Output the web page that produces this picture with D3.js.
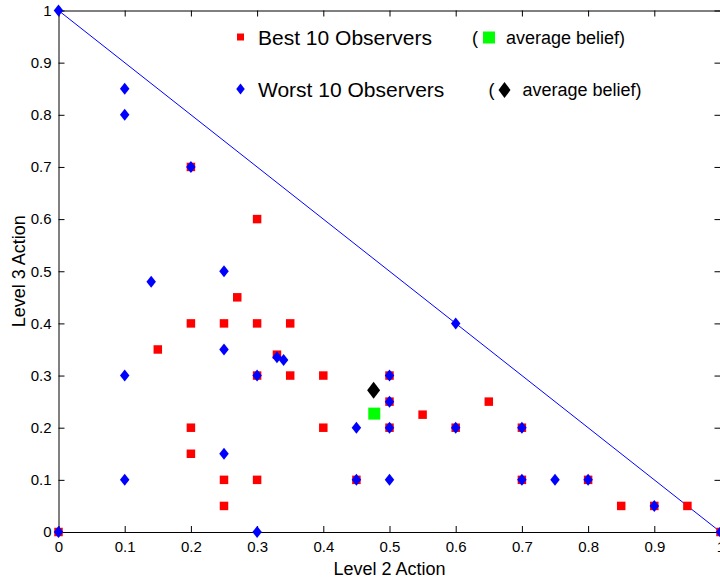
<!DOCTYPE html>
<html>
<head>
<meta charset="utf-8">
<script src="https://cdn.jsdelivr.net/npm/d3@7"></script>
<style>
    body { margin: 0; background: #fff; }
    svg { display: block; font-family: "Liberation Sans", Arial, Helvetica, sans-serif; }
</style>
</head>
<body>
<svg></svg>
<script>
// Best 10 observers (red squares)
let bestX = [0, 0.2, 0.3, 0.27, 0.2, 0.25, 0.3, 0.35, 0.15, 0.33, 0.3, 0.35, 0.4, 0.2, 0.4, 0.2, 0.25, 0.3, 0.45, 0.25,
    0.5, 0.5, 0.5, 0.55, 0.65, 0.6, 0.7, 0.7, 0.8, 0.85, 0.9, 0.95, 1];
let bestY = [0, 0.7, 0.6, 0.45, 0.4, 0.4, 0.4, 0.4, 0.35, 0.34, 0.3, 0.3, 0.3, 0.2, 0.2, 0.15, 0.1, 0.1, 0.1, 0.05,
    0.3, 0.25, 0.2, 0.225, 0.25, 0.2, 0.2, 0.1, 0.1, 0.05, 0.05, 0.05, 0];

// Worst 10 observers (blue diamonds)
let worstX = [0, 0.1, 0.1, 0.2, 0.25, 0.14, 0.25, 0.1, 0.3, 0.33, 0.34, 0.25, 0.1, 0.45, 0.45, 0.3, 0,
    0.6, 0.5, 0.5, 0.5, 0.5, 0.6, 0.7, 0.7, 0.75, 0.8, 0.9, 1];
let worstY = [1, 0.85, 0.8, 0.7, 0.5, 0.48, 0.35, 0.3, 0.3, 0.335, 0.33, 0.15, 0.1, 0.2, 0.1, 0, 0,
    0.4, 0.3, 0.25, 0.2, 0.1, 0.2, 0.2, 0.1, 0.1, 0.1, 0.05, 0];

// average beliefs
let bestAvg = [0.477, 0.227];
let worstAvg = [0.476, 0.272];

let ticks = [0, 0.1, 0.2, 0.3, 0.4, 0.5, 0.6, 0.7, 0.8, 0.9, 1];
let legendLabels = ["Best 10 Observers", "Worst 10 Observers"];
let avgLabel = "average belief)";

let width = 720,
    height = 580,
    plotLeft = 58.5,
    plotRight = 720.5,
    plotTop = 10.5,
    plotBottom = 532;

let x = d3.scaleLinear().domain([0, 1]).range([plotLeft, plotRight]);
let y = d3.scaleLinear().domain([0, 1]).range([plotBottom, plotTop]);

let svg = d3.select('svg')
    .attr('width', width)
    .attr('height', height);

// diamond path of given width and height
function diamond(w, h) {
    return 'M0,' + (-h / 2) + 'L' + (w / 2) + ',0L0,' + (h / 2) + 'L' + (-w / 2) + ',0Z';
}
function square(s) {
    return 'M' + (-s / 2) + ',' + (-s / 2) + 'h' + s + 'v' + s + 'h' + (-s) + 'Z';
}

// axes, ticks pointing inward on all sides
let fmt = d => d3.format('')(d);
svg.append('g')
    .attr('transform', 'translate(0,' + plotBottom + ')')
    .call(d3.axisBottom(x).tickValues(ticks).tickFormat(fmt).tickSizeInner(-6).tickSizeOuter(0).tickPadding(9));
svg.append('g')
    .attr('transform', 'translate(' + plotLeft + ',0)')
    .call(d3.axisLeft(y).tickValues(ticks).tickFormat(fmt).tickSizeInner(-6).tickSizeOuter(0).tickPadding(7));
svg.append('g')
    .attr('transform', 'translate(0,' + plotTop + ')')
    .call(d3.axisTop(x).tickValues(ticks).tickFormat('').tickSizeInner(-6).tickSizeOuter(0));
svg.append('g')
    .attr('transform', 'translate(' + plotRight + ',0)')
    .call(d3.axisRight(y).tickValues(ticks).tickFormat('').tickSizeInner(-6).tickSizeOuter(0));

svg.selectAll('.domain, .tick line')
    .attr('stroke', '#000')
    .attr('stroke-width', 1);
svg.selectAll('.tick text')
    .attr('font-size', 15)
    .attr('fill', '#000')
    .attr('font-family', '"Liberation Sans", Arial, sans-serif');

// diagonal x + y = 1
svg.append('line')
    .attr('x1', x(0)).attr('y1', y(1))
    .attr('x2', x(1)).attr('y2', y(0))
    .attr('stroke', '#0000ff')
    .attr('stroke-width', 1);

let best = bestX.map((v, i) => [v, bestY[i]]);
let worst = worstX.map((v, i) => [v, worstY[i]]);

svg.append('g').selectAll('path')
    .data(best).enter()
    .append('path')
    .attr('d', square(8.5))
    .attr('transform', d => 'translate(' + x(d[0]) + ',' + y(d[1]) + ')')
    .attr('fill', '#ff0000');

svg.append('g').selectAll('path')
    .data(worst).enter()
    .append('path')
    .attr('d', diamond(9.5, 12))
    .attr('transform', d => 'translate(' + x(d[0]) + ',' + y(d[1]) + ')')
    .attr('fill', '#0000ff');

svg.append('path')
    .attr('d', square(12))
    .attr('transform', 'translate(' + x(bestAvg[0]) + ',' + y(bestAvg[1]) + ')')
    .attr('fill', '#00ff00');

svg.append('path')
    .attr('d', diamond(13, 17))
    .attr('transform', 'translate(' + x(worstAvg[0]) + ',' + y(worstAvg[1]) + ')')
    .attr('fill', '#000');

// legend
let legend = svg.append('g');
legend.append('path').attr('d', square(7)).attr('transform', 'translate(240.5,37)').attr('fill', '#ff0000');
legend.append('path').attr('d', diamond(8.5, 11)).attr('transform', 'translate(240.5,89)').attr('fill', '#0000ff');
legend.selectAll('text.lab')
    .data(legendLabels).enter()
    .append('text')
    .attr('class', 'lab')
    .attr('x', 258)
    .attr('y', (d, i) => i === 0 ? 44.5 : 96.5)
    .attr('font-size', 21)
    .text(d => d);

legend.append('text').attr('x', 472).attr('y', 44).attr('font-size', 18).text('(');
legend.append('path').attr('d', square(12)).attr('transform', 'translate(489,37.5)').attr('fill', '#00ff00');
legend.append('text').attr('x', 506).attr('y', 44).attr('font-size', 18).text(avgLabel);

legend.append('text').attr('x', 488.5).attr('y', 96).attr('font-size', 18).text('(');
legend.append('path').attr('d', diamond(12, 16)).attr('transform', 'translate(504.5,90)').attr('fill', '#000');
legend.append('text').attr('x', 522.5).attr('y', 96).attr('font-size', 18).text(avgLabel);

// axis titles
svg.append('text')
    .attr('x', (plotLeft + plotRight) / 2)
    .attr('y', 575)
    .attr('text-anchor', 'middle')
    .attr('font-size', 18)
    .text('Level 2 Action');

svg.append('text')
    .attr('transform', 'translate(24.5,' + ((plotTop + plotBottom) / 2) + ')rotate(-90)')
    .attr('text-anchor', 'middle')
    .attr('font-size', 18)
    .text('Level 3 Action');
</script>
</body>
</html>
